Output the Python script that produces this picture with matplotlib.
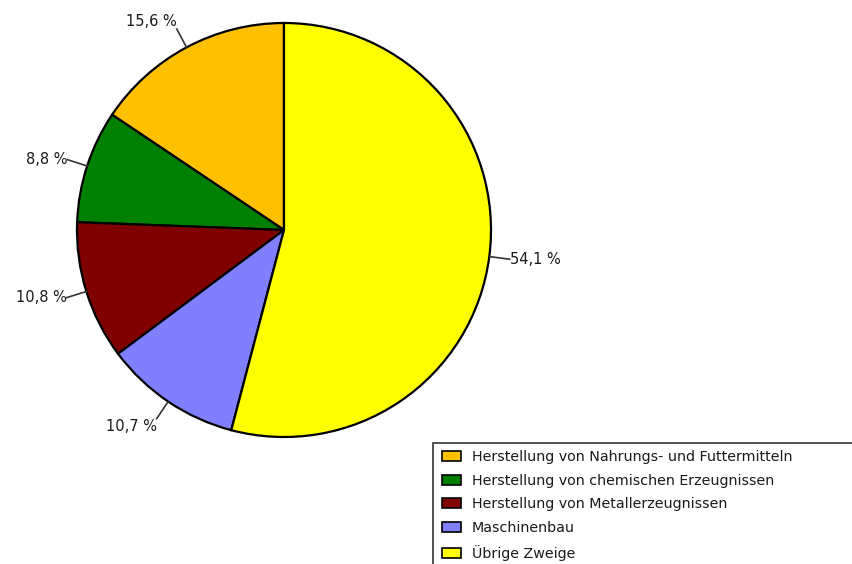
import numpy as np
import matplotlib
matplotlib.use("Agg")
import matplotlib.pyplot as plt
from matplotlib.patches import Rectangle

plt.rcParams['font.family'] = ['DejaVu Sans']

categories = ["Herstellung von Nahrungs- und Futtermitteln",
              "Herstellung von chemischen Erzeugnissen",
              "Herstellung von Metallerzeugnissen",
              "Maschinenbau",
              "Übrige Zweige"]
values = [15.6, 8.8, 10.8, 10.7, 54.1]
labels = ["15,6 %", "8,8 %", "10,8 %", "10,7 %", "54,1 %"]
colors = ["#FFC000", "#008000", "#800000", "#8080FF", "#FFFF00"]

W, H = 852, 564
fig = plt.figure(figsize=(W / 100, H / 100), dpi=100)
cx, cy, r = 284, 230, 207
ax = fig.add_axes([(cx - r) / W, (H - cy - r) / H, 2 * r / W, 2 * r / H])

wedges, _ = ax.pie(values, colors=colors, startangle=90, counterclock=True,
                   radius=1.0,
                   wedgeprops=dict(edgecolor='black', linewidth=1.6))
ax.set_xlim(-1, 1)
ax.set_ylim(-1, 1)
ax.set_aspect('equal')
ax.axis('off')

for w, lab in zip(wedges, labels):
    ang = np.deg2rad((w.theta1 + w.theta2) / 2)
    c, s = np.cos(ang), np.sin(ang)
    x0, y0 = c * 1.0, s * 1.0
    x1, y1 = c * 1.1, s * 1.1
    ax.plot([x0, x1], [y0, y1], color='#333333', lw=1.2, clip_on=False)
    ha = 'right' if c < 0 else 'left'
    if abs(s) < 0.5:
        va = 'center'
    else:
        va = 'bottom' if s > 0 else 'top'
    ax.text(x1, y1, lab, ha=ha, va=va, fontsize=10.5, color='#1a1a1a')

# legend frame extending beyond figure
fig.patches.append(Rectangle((433 / W, -0.05), 0.6, (H - 443) / H + 0.05,
                             transform=fig.transFigure, facecolor='white',
                             edgecolor='#333333', linewidth=1.2))
handles = [Rectangle((0, 0), 1, 1, facecolor=col, edgecolor='black', linewidth=1.2)
           for col in colors]
fig.legend(handles, categories, loc='upper left',
           bbox_to_anchor=(432 / W, 1 - 440 / H), frameon=False,
           fontsize=10.3, handlelength=1.3, handleheight=0.7,
           labelspacing=0.68, handletextpad=0.8, borderpad=0.2,
           labelcolor='#1a1a1a')

fig.savefig("out.png", dpi=100)
